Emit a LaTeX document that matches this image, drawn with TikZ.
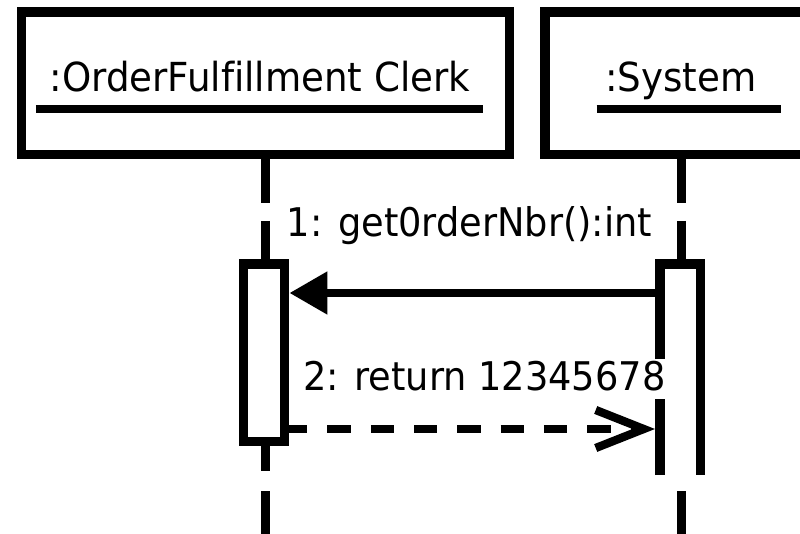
\documentclass[tikz,border=0pt]{standalone}
\usepackage{fontspec}
\setmainfont{DejaVu Sans}[Ligatures=NoCommon, FakeStretch=0.93]
\usetikzlibrary{arrows.meta}

\begin{document}
\begin{tikzpicture}[x=1pt, y=-1pt,
  headbox/.style={draw, rectangle, line width=9.5pt, fill=white, inner sep=0pt},
  actbox/.style={draw, rectangle, line width=9.5pt, fill=white, inner sep=0pt},
  hdr/.style={inner sep=0pt, anchor=base, font=\fontsize{40}{44}\selectfont},
  lbl/.style={inner sep=0pt, anchor=base west, font=\fontsize{39.5}{44}\selectfont},
  uline/.style={line width=8.3pt},
  life/.style={line width=9.4pt},
  call/.style={line width=8.3pt, -{Triangle[length=38pt,width=41pt]}},
  reply/.style={line width=8.3pt, dash pattern=on 23.3pt off 20pt, dash phase=5.3pt,
                -{Straight Barb[length=48pt,width=38pt]}}
]
\useasboundingbox (0,0) rectangle (800,534);
\clip (0,0) rectangle (800,534);

% object headers
\node[headbox, minimum width=487.8pt, minimum height=142.7pt] (clerkbox) at (265.6,83.35) {};
\node[headbox, minimum width=315pt, minimum height=142.7pt] (sysbox) at (702.5,83.35) {};
\node[hdr] (clerk) at (260,91.7) {:OrderFulfillment Clerk};
\node[hdr] (sys) at (680.8,91.7) {:System};
\draw[uline] ([shift={(-13.6pt,-17.3pt)}]clerk.base west) -- ([shift={(12pt,-17.3pt)}]clerk.base east);
\draw[uline] ([shift={(-8.3pt,-17.3pt)}]sys.base west) -- ([shift={(24pt,-17.3pt)}]sys.base east);

% lifeline end points
\coordinate (cA) at (265.3,203);
\coordinate (cB) at (265.3,221);
\coordinate (cC) at (265.3,471);
\coordinate (cD) at (265.3,491);
\coordinate (cE) at (265.3,540);
\coordinate (sA) at (681.5,203);
\coordinate (sB) at (681.5,221);
\coordinate (sT) at (681.5,264);
\coordinate (sD) at (681.5,491);
\coordinate (sE) at (681.5,540);

% activation of the clerk
\node[actbox, minimum width=41.4pt, minimum height=177.3pt] (clact) at (264,352.85) {};

% lifelines
\draw[life] (clerkbox.south -| cA) -- (cA);
\draw[life] (cB) -- (clact.north -| cB);
\draw[life] (clact.south -| cC) -- (cC);
\draw[life] (cD) -- (cE);
\draw[life] (sysbox.south -| sA) -- (sA);
\draw[life] (sB) -- (sT);
\draw[life] (sD) -- (sE);

% activation of the system (open at the bottom)
\coordinate (saL) at (660,475);
\coordinate (saR) at (700.5,475);
\draw[line width=9.7pt] (saL) -- (660,399);
\draw[line width=9.7pt] (660,359) -- (660,264.2) -- (700.5,264.2) -- (saR);

% messages
\coordinate (m1) at (660,293);
\coordinate (m2) at (655,429);
\draw[call] (m1) -- (m1 -| clact.east);
\draw[reply] (m2 -| clact.east) -- (m2);
\node[lbl] (m1lbl) at (286.7,237) {1: get0rderNbr():int};
\node[lbl] (m2lbl) at (303,390) {2: return 12345678};
\end{tikzpicture}
\end{document}
